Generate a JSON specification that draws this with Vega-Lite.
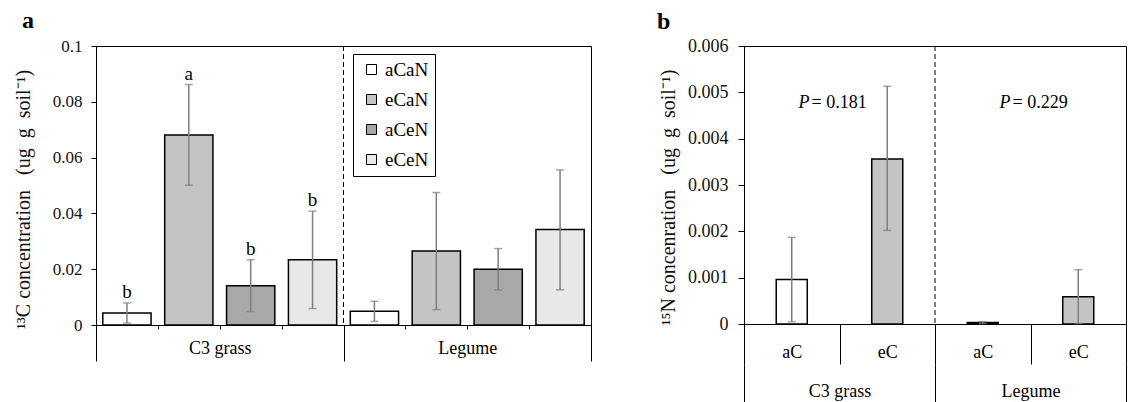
{
  "$schema": "https://vega.github.io/schema/vega-lite/v6.json",
  "background": "white",
  "padding": {"left": 12, "top": 8, "right": 0, "bottom": 0},
  "bounds": "flush",
  "spacing": 153,
  "resolve": {"scale": {"fill": "independent"}, "legend": {"fill": "independent"}},
  "config": {
    "font": "Liberation Serif",
    "view": {"stroke": "black", "strokeWidth": 1},
    "axis": {
      "grid": false,
      "domainColor": "black",
      "tickColor": "black",
      "labelColor": "#111111",
      "titleColor": "#111111",
      "labelFont": "Liberation Serif",
      "titleFont": "Liberation Serif",
      "titleFontWeight": "normal",
      "titleFontSize": 20,
      "domainWidth": 1,
      "tickWidth": 1
    },
    "text": {"font": "Liberation Serif"},
    "legend": {"labelFont": "Liberation Serif"},
    "title": {"font": "Liberation Serif", "fontWeight": "bold", "fontSize": 24, "anchor": "start", "frame": "group", "baseline": "alphabetic", "color": "black"}
  },
  "datasets": {
    "c13": [
      {"key": "C3|aCaN", "group": "C3 grass", "treat": "aCaN", "mean": 0.0043, "lo": 0.0007, "hi": 0.0079, "letter": "b"},
      {"key": "C3|eCaN", "group": "C3 grass", "treat": "eCaN", "mean": 0.0681, "lo": 0.0501, "hi": 0.0862, "letter": "a"},
      {"key": "C3|aCeN", "group": "C3 grass", "treat": "aCeN", "mean": 0.0141, "lo": 0.0048, "hi": 0.0234, "letter": "b"},
      {"key": "C3|eCeN", "group": "C3 grass", "treat": "eCeN", "mean": 0.0234, "lo": 0.0059, "hi": 0.0408, "letter": "b"},
      {"key": "L|aCaN", "group": "Legume", "treat": "aCaN", "mean": 0.0049, "lo": 0.0013, "hi": 0.0085, "letter": ""},
      {"key": "L|eCaN", "group": "Legume", "treat": "eCaN", "mean": 0.0265, "lo": 0.0055, "hi": 0.0475, "letter": ""},
      {"key": "L|aCeN", "group": "Legume", "treat": "aCeN", "mean": 0.0200, "lo": 0.0126, "hi": 0.0274, "letter": ""},
      {"key": "L|eCeN", "group": "Legume", "treat": "eCeN", "mean": 0.0342, "lo": 0.0126, "hi": 0.0556, "letter": ""}
    ],
    "n15": [
      {"key": "C3|aC", "group": "C3 grass", "co2": "aC", "mean": 0.00096, "lo": 0.00005, "hi": 0.00187},
      {"key": "C3|eC", "group": "C3 grass", "co2": "eC", "mean": 0.00356, "lo": 0.00202, "hi": 0.00513},
      {"key": "L|aC", "group": "Legume", "co2": "aC", "mean": 0.00003, "lo": 0.00001, "hi": 0.00005},
      {"key": "L|eC", "group": "Legume", "co2": "eC", "mean": 0.00059, "lo": 0.00001, "hi": 0.00117}
    ],
    "groups": [
      {"group": "C3 grass", "pv": "= 0.181"},
      {"group": "Legume", "pv": "= 0.229"}
    ]
  },
  "hconcat": [
    {
      "width": 495,
      "height": 279,
      "title": {"text": "a", "dx": -74, "offset": 4},
      "layer": [
        {
          "data": {"name": "c13"},
          "encoding": {
            "x": {"field": "key", "type": "nominal", "sort": null,
              "scale": {"paddingInner": 0, "paddingOuter": 0},
              "axis": {"orient": "bottom", "title": null, "labels": false, "tickBand": "extent", "tickSize": 4}}
          },
          "layer": [
            {
              "mark": {"type": "bar", "width": {"band": 0.78}, "stroke": "black", "strokeWidth": 1.5},
              "encoding": {
                "y": {"field": "mean", "type": "quantitative",
                  "scale": {"domain": [0, 0.1], "nice": false},
                  "axis": {"title": "¹³C concentration\u00a0\u00a0 (ug\u00a0 g\u00a0 soil⁻¹)", "values": [0, 0.02, 0.04, 0.06, 0.08, 0.1], "format": "~g", "labelFontSize": 17, "tickSize": 5, "labelPadding": 9, "titlePadding": 19, "titleY": 153}},
                "fill": {"field": "treat", "type": "nominal",
                  "scale": {"domain": ["aCaN", "eCaN", "aCeN", "eCeN"], "range": ["#ffffff", "#c4c4c4", "#a8a8a8", "#e8e8e8"]},
                  "legend": {"orient": "none", "legendX": 257, "legendY": 8, "title": null, "direction": "vertical",
                    "strokeColor": "black", "fillColor": "white", "padding": 6, "symbolType": "square", "symbolSize": 100,
                    "symbolStrokeColor": "black", "symbolStrokeWidth": 1, "symbolOffset": 3, "labelOffset": 4,
                    "labelFontSize": 19, "labelFont": "Liberation Serif", "labelColor": "black", "rowPadding": 10, "cornerRadius": 0}}
              }
            },
            {
              "mark": {"type": "rule", "color": "#7f7f7f", "strokeWidth": 1.5},
              "encoding": {"y": {"field": "lo", "type": "quantitative"}, "y2": {"field": "hi"}}
            },
            {
              "mark": {"type": "tick", "orient": "horizontal", "size": 8, "thickness": 1.5, "color": "#7f7f7f"},
              "encoding": {"y": {"field": "lo", "type": "quantitative"}}
            },
            {
              "mark": {"type": "tick", "orient": "horizontal", "size": 8, "thickness": 1.5, "color": "#7f7f7f"},
              "encoding": {"y": {"field": "hi", "type": "quantitative"}}
            },
            {
              "mark": {"type": "text", "dy": -5, "baseline": "alphabetic", "fontSize": 19, "font": "Liberation Serif", "color": "black"},
              "encoding": {"y": {"field": "hi", "type": "quantitative"}, "text": {"field": "letter"}}
            }
          ]
        },
        {
          "data": {"name": "groups"},
          "transform": [{"filter": "datum.group == 'Legume'"}],
          "mark": {"type": "rule", "strokeDash": [5, 3], "color": "black", "strokeWidth": 1},
          "encoding": {
            "x": {"field": "group", "type": "nominal", "bandPosition": 0,
              "scale": {"domain": ["C3 grass", "Legume"], "paddingInner": 0, "paddingOuter": 0},
              "axis": {"orient": "bottom", "title": null, "domain": false, "tickBand": "extent", "tickSize": 36,
                "labelFontSize": 18, "labelBaseline": "middle", "labelPadding": -13, "labelColor": "black", "labelAngle": 0}}
          }
        }
      ],
      "resolve": {"scale": {"x": "independent"}}
    },
    {
      "width": 382,
      "height": 278,
      "title": {"text": "b", "dx": -87, "offset": 3},
      "layer": [
        {
          "data": {"name": "n15"},
          "encoding": {
            "x": {"field": "key", "type": "nominal", "sort": null,
              "scale": {"paddingInner": 0, "paddingOuter": 0},
              "axis": {"orient": "bottom", "title": null, "tickBand": "extent", "tickSize": 40,
                "labelExpr": "split(datum.value, '|')[1]", "labelFontSize": 18, "labelBaseline": "middle",
                "labelPadding": -12, "labelColor": "black", "labelAngle": 0}}
          },
          "layer": [
            {
              "mark": {"type": "bar", "width": {"band": 0.325}, "stroke": "black", "strokeWidth": 1.5},
              "encoding": {
                "y": {"field": "mean", "type": "quantitative",
                  "scale": {"domain": [0, 0.006], "nice": false},
                  "axis": {"title": "¹⁵N concenration\u00a0\u00a0 (ug\u00a0 g\u00a0 soil⁻¹)", "values": [0, 0.001, 0.002, 0.003, 0.004, 0.005, 0.006], "format": "~g", "labelFontSize": 18, "tickSize": 6, "labelPadding": 10, "titlePadding": 9, "titleY": 151}},
                "fill": {"field": "co2", "type": "nominal",
                  "scale": {"domain": ["aC", "eC"], "range": ["#ffffff", "#c4c4c4"]},
                  "legend": null}
              }
            },
            {
              "mark": {"type": "rule", "color": "#7f7f7f", "strokeWidth": 1.5},
              "encoding": {"y": {"field": "lo", "type": "quantitative"}, "y2": {"field": "hi"}}
            },
            {
              "mark": {"type": "tick", "orient": "horizontal", "size": 8, "thickness": 1.5, "color": "#7f7f7f"},
              "encoding": {"y": {"field": "lo", "type": "quantitative"}}
            },
            {
              "mark": {"type": "tick", "orient": "horizontal", "size": 8, "thickness": 1.5, "color": "#7f7f7f"},
              "encoding": {"y": {"field": "hi", "type": "quantitative"}}
            }
          ]
        },
        {
          "data": {"name": "groups"},
          "layer": [
            {
              "transform": [{"filter": "datum.group == 'Legume'"}],
              "mark": {"type": "rule", "strokeDash": [5, 3], "color": "black", "strokeWidth": 1},
              "encoding": {
                "x": {"field": "group", "type": "nominal", "bandPosition": 0,
                  "scale": {"domain": ["C3 grass", "Legume"], "paddingInner": 0, "paddingOuter": 0},
                  "axis": {"orient": "bottom", "offset": 40, "title": null, "domain": false, "tickBand": "extent", "tickSize": 40,
                    "labelFontSize": 18, "labelBaseline": "middle", "labelPadding": -13, "labelColor": "black", "labelAngle": 0}}
              }
            },
            {
              "transform": [{"filter": "datum.group == 'C3 grass'"}],
              "mark": {"type": "text", "align": "right", "baseline": "alphabetic", "fontStyle": "italic", "fontSize": 18, "dx": -30, "color": "black"},
              "encoding": {"x": {"field": "group", "type": "nominal"}, "y": {"datum": 0.00467}, "text": {"value": "P"}}
            },
            {
              "transform": [{"filter": "datum.group == 'C3 grass'"}],
              "mark": {"type": "text", "align": "left", "baseline": "alphabetic", "fontSize": 18, "dx": -28, "color": "black"},
              "encoding": {"x": {"field": "group", "type": "nominal"}, "y": {"datum": 0.00467}, "text": {"field": "pv"}}
            },
            {
              "transform": [{"filter": "datum.group == 'Legume'"}],
              "mark": {"type": "text", "align": "right", "baseline": "alphabetic", "fontStyle": "italic", "fontSize": 18, "dx": -20, "color": "black"},
              "encoding": {"x": {"field": "group", "type": "nominal"}, "y": {"datum": 0.00467}, "text": {"value": "P"}}
            },
            {
              "transform": [{"filter": "datum.group == 'Legume'"}],
              "mark": {"type": "text", "align": "left", "baseline": "alphabetic", "fontSize": 18, "dx": -18, "color": "black"},
              "encoding": {"x": {"field": "group", "type": "nominal"}, "y": {"datum": 0.00467}, "text": {"field": "pv"}}
            }
          ]
        }
      ],
      "resolve": {"scale": {"x": "independent"}}
    }
  ]
}
